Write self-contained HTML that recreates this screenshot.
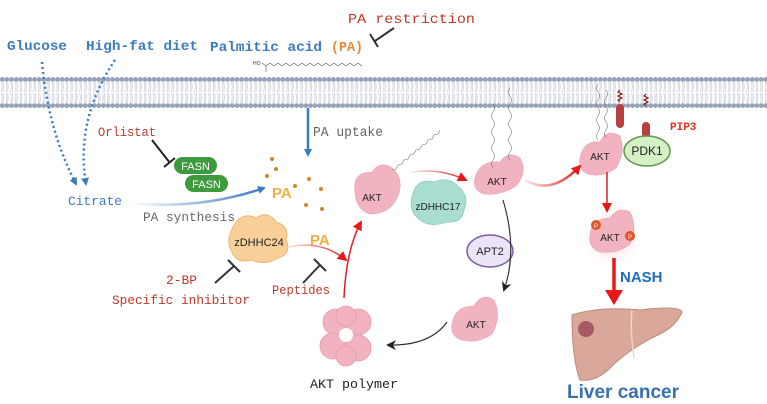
<!DOCTYPE html>
<html><head><meta charset="utf-8"><style>
html,body{margin:0;padding:0;background:#fff;}
svg{display:block;}
.m{font-family:"Liberation Mono",monospace;}
.s{font-family:"Liberation Sans",sans-serif;}
</style></head><body>
<svg width="767" height="404" viewBox="0 0 767 404" xmlns="http://www.w3.org/2000/svg">
<defs>
<pattern id="heads" x="0" y="77" width="4.6" height="31" patternUnits="userSpaceOnUse">
<circle cx="2.3" cy="2.4" r="2.4" fill="#96a2b6"/>
<circle cx="2.3" cy="28.6" r="2.4" fill="#96a2b6"/>
<path d="M1.5 5 L2.2 10 L1.5 15 M3 5 L3.6 10 L3 15 M1.5 16 L2.2 21 L1.5 26 M3 16 L3.6 21 L3 26" stroke="#c4c9d6" stroke-width="0.7" fill="none"/>
</pattern>
<linearGradient id="bg1" x1="0" x2="1"><stop offset="0" stop-color="#3a7cc0" stop-opacity="0"/><stop offset="1" stop-color="#3a7cc0"/></linearGradient>
<linearGradient id="rg1" x1="0" x2="1"><stop offset="0" stop-color="#e02020" stop-opacity="0.1"/><stop offset="1" stop-color="#e02020"/></linearGradient>
<radialGradient id="glow"><stop offset="0" stop-color="#f4a0a8" stop-opacity="0.7"/><stop offset="1" stop-color="#fff" stop-opacity="0"/></radialGradient>
<marker id="ab" markerWidth="8" markerHeight="8" refX="6" refY="4" orient="auto" markerUnits="userSpaceOnUse"><path d="M0 0 L8 4 L0 8Z" fill="#3a7cc0"/></marker>
<marker id="ar" markerWidth="10" markerHeight="10" refX="8" refY="5" orient="auto" markerUnits="userSpaceOnUse"><path d="M0 0 L10 5 L0 10Z" fill="#e81818"/></marker>
<marker id="ak" markerWidth="10" markerHeight="10" refX="8" refY="5" orient="auto" markerUnits="userSpaceOnUse"><path d="M0 0 L10 5 L0 10 L3 5Z" fill="#222"/></marker>
</defs>

<rect x="0" y="77" width="767" height="31" fill="url(#heads)"/>

<g class="m" font-size="14" font-weight="bold">
<text x="7" y="50" fill="#3a7cc0" textLength="60" lengthAdjust="spacingAndGlyphs">Glucose</text>
<text x="86" y="50" fill="#3a7cc0" textLength="112" lengthAdjust="spacingAndGlyphs">High-fat diet</text>
<text x="210" y="51" fill="#3a7cc0" textLength="112" lengthAdjust="spacingAndGlyphs">Palmitic acid</text>
<text x="331" y="51" fill="#e08a3a" textLength="32" lengthAdjust="spacingAndGlyphs">(PA)</text>
</g>
<text class="m" x="348" y="23" font-size="14" fill="#c0392b" textLength="127" lengthAdjust="spacingAndGlyphs">PA restriction</text>
<line x1="394" y1="28" x2="375" y2="41" stroke="#333" stroke-width="2"/>
<line x1="370" y1="34" x2="378" y2="47" stroke="#333" stroke-width="2"/>

<text class="s" x="253" y="65" font-size="5" fill="#333">HO</text>
<path d="M262 63 l4 3 4-3 4 3 4-3 4 3 4-3 4 3 4-3 4 3 4-3 4 3 4-3 4 3 4-3 4 3 4-3 4 3 4-3 4 3 4-3 4 3 4-3 4 3 4-3 4 3" stroke="#555" stroke-width="0.6" fill="none"/>
<line x1="266" y1="66" x2="266" y2="72" stroke="#555" stroke-width="0.6"/>

<path d="M42 62 Q48 130 76 184" stroke="#3a7cc0" stroke-width="2.5" stroke-dasharray="2 3" fill="none" marker-end="url(#ab)"/>
<path d="M115 60 Q75 120 86 184" stroke="#3a7cc0" stroke-width="2.5" stroke-dasharray="2 3" fill="none" marker-end="url(#ab)"/>
<text class="m" x="68" y="205" font-size="13" fill="#3a7cc0" textLength="54" lengthAdjust="spacingAndGlyphs">Citrate</text>
<path d="M130 203 Q200 210 264 188" stroke="url(#bg1)" stroke-width="2.5" fill="none" marker-end="url(#ab)"/>
<text class="m" x="143" y="221" font-size="13" fill="#666" textLength="92" lengthAdjust="spacingAndGlyphs">PA synthesis</text>

<line x1="308" y1="108" x2="308" y2="155" stroke="#3a7cc0" stroke-width="2.5" marker-end="url(#ab)"/>
<text class="m" x="313" y="136" font-size="14" fill="#666" textLength="70" lengthAdjust="spacingAndGlyphs">PA uptake</text>

<text class="m" x="98" y="136" font-size="13" fill="#c0392b" textLength="58" lengthAdjust="spacingAndGlyphs">Orlistat</text>
<line x1="152" y1="140" x2="170" y2="163" stroke="#222" stroke-width="2"/>
<line x1="164" y1="167" x2="175" y2="158" stroke="#222" stroke-width="2"/>
<rect x="174" y="157" width="43" height="17" rx="8.5" fill="#3d9a3d"/>
<text class="s" x="195.5" y="170" font-size="11" fill="#fff" text-anchor="middle">FASN</text>
<rect x="185" y="175" width="43" height="17" rx="8.5" fill="#3d9a3d"/>
<text class="s" x="206.5" y="188" font-size="11" fill="#fff" text-anchor="middle">FASN</text>

<text class="s" x="272" y="198" font-size="15" font-weight="bold" fill="#f0b040">PA</text>
<g fill="#c98a2a">
<circle cx="272" cy="159" r="2"/><circle cx="276" cy="169" r="2"/><circle cx="267" cy="176" r="2"/>
<circle cx="295" cy="186" r="2"/><circle cx="309" cy="179" r="2"/><circle cx="321" cy="189" r="2"/>
<circle cx="306" cy="205" r="2"/><circle cx="322" cy="209" r="2"/>
</g>

<path d="M236 222 Q245 212 256 218 Q268 210 276 222 Q290 226 286 240 Q292 254 278 258 Q266 266 252 260 Q236 264 232 252 Q224 240 236 222Z" fill="#f8cf98" stroke="#f0b870" stroke-width="1"/>
<text class="s" x="259" y="246" font-size="11" fill="#222" text-anchor="middle">zDHHC24</text>
<text class="s" x="310" y="245" font-size="15" font-weight="bold" fill="#f0b040">PA</text>
<path d="M288 247 Q322 240 346 260" stroke="url(#rg1)" stroke-width="1.5" fill="none" marker-end="url(#ar)"/>
<path d="M344 298 Q346 250 361 222" stroke="#e02020" stroke-width="1.5" fill="none" marker-end="url(#ar)"/>
<line x1="215" y1="283" x2="234" y2="266" stroke="#333" stroke-width="2"/>
<line x1="228" y1="260" x2="240" y2="272" stroke="#333" stroke-width="2"/>
<text class="m" x="166" y="284" font-size="13" fill="#c0392b" textLength="31" lengthAdjust="spacingAndGlyphs">2-BP</text>
<text class="m" x="112" y="304" font-size="13" fill="#c0392b" textLength="138" lengthAdjust="spacingAndGlyphs">Specific inhibitor</text>
<line x1="303" y1="283" x2="320" y2="265" stroke="#333" stroke-width="2"/>
<line x1="314" y1="259" x2="326" y2="271" stroke="#333" stroke-width="2"/>
<text class="m" x="272" y="294" font-size="13" fill="#c0392b" textLength="58" lengthAdjust="spacingAndGlyphs">Peptides</text>

<g fill="#f2b3c0" stroke="#e89aa8" stroke-width="0.8">
<circle cx="336" cy="322" r="13"/><circle cx="358" cy="322" r="13"/><circle cx="333" cy="346" r="13"/><circle cx="358" cy="348" r="13"/><circle cx="346" cy="316" r="10"/><circle cx="346" cy="356" r="10"/>
</g>
<circle cx="346" cy="335" r="7" fill="#fff"/>
<text class="m" x="310" y="388" font-size="13" fill="#222" textLength="88" lengthAdjust="spacingAndGlyphs">AKT polymer</text>

<g fill="#f2b3c0" stroke="#e8a0ae" stroke-width="0.6">
<path d="M355 192 Q352 172 372 172 Q380 160 392 168 Q406 180 396 200 Q388 214 370 214 Q356 210 355 192Z"/>
<path d="M475 178 Q480 160 500 162 Q508 150 520 158 Q528 172 516 186 Q500 196 484 194 Q472 190 475 178Z"/>
<path d="M580 158 Q584 140 600 142 Q606 128 620 136 Q626 152 616 168 Q602 178 588 174 Q578 170 580 158Z"/>
<path d="M452 324 Q455 306 474 306 Q482 292 494 300 Q502 316 492 334 Q478 344 462 340 Q450 336 452 324Z"/>
</g>
<circle cx="612" cy="237" r="34" fill="url(#glow)"/>
<path d="M590 235 Q592 218 610 218 Q618 206 630 212 Q638 228 630 244 Q618 254 600 252 Q588 248 590 235Z" fill="#f2b3c0" stroke="#e8a0ae" stroke-width="0.6"/>
<g class="s" font-size="10" fill="#222" text-anchor="middle">
<text x="372" y="201">AKT</text><text x="497" y="185">AKT</text><text x="600" y="160">AKT</text><text x="610" y="241">AKT</text><text x="476" y="328">AKT</text>
</g>
<circle cx="596" cy="225" r="5" fill="#e0552a"/><text class="s" x="596" y="228" font-size="6" fill="#fff" text-anchor="middle">P</text>
<circle cx="630" cy="236" r="5" fill="#e0552a"/><text class="s" x="630" y="239" font-size="6" fill="#fff" text-anchor="middle">P</text>

<path d="M392 170 l4-1 2-4 4-1 2-4 4-1 2-4 4-1 2-4 4-1 2-4 4-1 2-4 4-1 2-4 4-1 2-4" stroke="#777" stroke-width="0.6" fill="none"/>
<path d="M493 168 q-3-4 0-8 q3-4 0-8 q-3-4 0-8 q3-4 0-8 q-3-4 0-8 q3-4 0-8 q-3-4 0-8 q3-4 0-8" stroke="#777" stroke-width="0.6" fill="none"/>
<path d="M510 160 q-3-4 0-8 q3-4 0-8 q-3-4 0-8 q3-4 0-8 q-3-4 0-8 q3-4 0-8 q-3-4 0-8 q3-4 0-8 q-3-4 0-8" stroke="#777" stroke-width="0.6" fill="none"/>
<path d="M598 140 q-3-4 0-8 q3-4 0-8 q-3-4 0-8 q3-4 0-8 q-3-4 0-8 q3-4 0-8 q-3-4 0-8" stroke="#777" stroke-width="0.6" fill="none"/>
<path d="M606 138 q-3-4 0-8 q3-4 0-8 q-3-4 0-8 q3-4 0-8 q-3-4 0-8 q3-4 0-8" stroke="#777" stroke-width="0.6" fill="none"/>

<path d="M620 90 l-2 2 4 2 -4 2 4 2 -4 2 2 2" stroke="#8a1a1a" stroke-width="1.2" fill="none"/>
<rect x="616" y="104" width="8" height="24" rx="4" fill="#b84040"/>
<path d="M646 94 l-2 2 4 2 -4 2 4 2 -4 2 2 2" stroke="#8a1a1a" stroke-width="1.2" fill="none"/>
<rect x="642" y="122" width="8" height="16" rx="4" fill="#b84040"/>
<text class="m" x="670" y="130" font-size="11" font-weight="bold" fill="#e03020">PIP3</text>
<ellipse cx="647" cy="151" rx="23" ry="15" fill="#d6f0c6" stroke="#5a9a4a" stroke-width="1.5"/>
<text class="s" x="647" y="155" font-size="12" fill="#222" text-anchor="middle">PDK1</text>

<path d="M414 190 Q420 178 434 182 Q448 176 458 186 Q470 196 464 210 Q462 224 446 222 Q430 228 420 220 Q406 210 414 190Z" fill="#a8ddd0" stroke="#90ccbe" stroke-width="0.8"/>
<text class="s" x="438" y="210" font-size="10" fill="#222" text-anchor="middle">zDHHC17</text>

<ellipse cx="490" cy="251" rx="23" ry="16" fill="#ece4f6" stroke="#7a5aa8" stroke-width="1.5"/>
<text class="s" x="490" y="255" font-size="11" fill="#222" text-anchor="middle">APT2</text>

<path d="M412 172 Q440 168 466 180" stroke="url(#rg1)" stroke-width="1.5" fill="none" marker-end="url(#ar)"/>
<path d="M525 180 Q552 196 580 166" stroke="url(#rg1)" stroke-width="2.5" fill="none" marker-end="url(#ar)"/>
<line x1="607" y1="172" x2="607" y2="211" stroke="#e02020" stroke-width="1.5" marker-end="url(#ar)"/>
<path d="M503 200 Q518 250 504 290" stroke="#333" stroke-width="1.2" fill="none" marker-end="url(#ak)"/>
<path d="M447 322 Q430 346 388 345" stroke="#333" stroke-width="1.2" fill="none" marker-end="url(#ak)"/>
<line x1="614" y1="258" x2="614" y2="292" stroke="#e81818" stroke-width="3.5"/>
<path d="M605 290 L623 290 L614 305Z" fill="#e81818"/>
<text class="s" x="620" y="282" font-size="15" font-weight="bold" fill="#1a6fc0">NASH</text>

<path d="M572 315 Q600 306 640 310 Q680 305 682 312 Q676 326 660 334 Q630 348 610 368 Q596 382 580 380 Q572 360 572 315Z" fill="#d9a89a" stroke="#c08a7c" stroke-width="1"/>
<path d="M632 310 Q630 330 634 358" stroke="#efd6c8" stroke-width="1.5" fill="none"/>
<circle cx="586" cy="329" r="8" fill="#a85a64"/>
<text class="s" x="623" y="398" font-size="19" font-weight="bold" fill="#3a6fb0" text-anchor="middle">Liver cancer</text>
</svg>
</body></html>
